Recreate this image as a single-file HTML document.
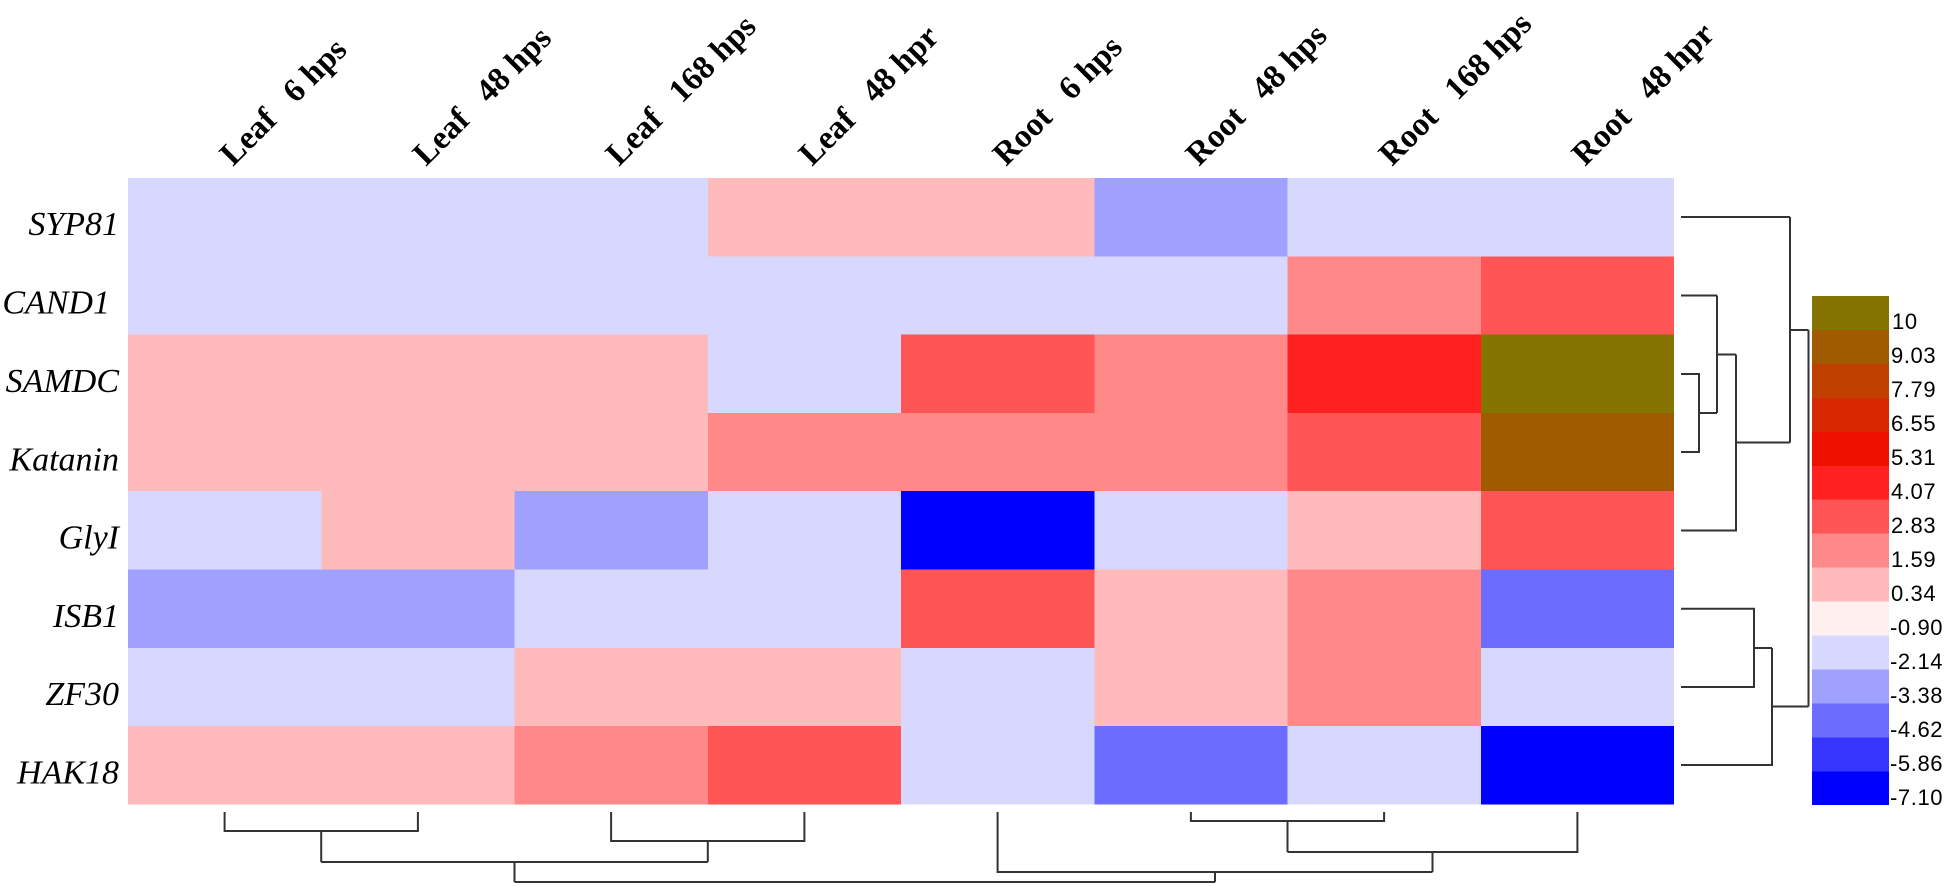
<!DOCTYPE html>
<html><head><meta charset="utf-8"><style>
html,body{margin:0;padding:0;background:#fff;}
svg{display:block;}
.rl{font-family:"Liberation Serif",serif;font-style:italic;font-size:34px;fill:#000;}
.cl{font-family:"Liberation Serif",serif;font-weight:bold;font-size:33px;fill:#000;white-space:pre;}
.lg{font-family:"Liberation Sans",sans-serif;font-size:22px;fill:#000;letter-spacing:0.6px;}
</style></head><body>
<svg width="1946" height="886" viewBox="0 0 1946 886" xmlns="http://www.w3.org/2000/svg">
<rect width="1946" height="886" fill="#fff"/>
<g shape-rendering="crispEdges">
<rect x="128" y="178" width="580" height="78.8" fill="#D8D8FF"/>
<rect x="707.75" y="178" width="386.9" height="78.8" fill="#FFBBBB"/>
<rect x="1094.25" y="178" width="193.7" height="78.8" fill="#A0A0FF"/>
<rect x="1287.5" y="178" width="386.5" height="78.8" fill="#D8D8FF"/>
<rect x="128" y="256.3" width="1159.9" height="78.8" fill="#D8D8FF"/>
<rect x="1287.5" y="256.3" width="193.7" height="78.8" fill="#FF8888"/>
<rect x="1480.75" y="256.3" width="193.25" height="78.8" fill="#FF5555"/>
<rect x="128" y="334.6" width="580" height="78.8" fill="#FFBBBB"/>
<rect x="707.75" y="334.6" width="193.7" height="78.8" fill="#D8D8FF"/>
<rect x="901" y="334.6" width="193.7" height="78.8" fill="#FF5555"/>
<rect x="1094.25" y="334.6" width="193.7" height="78.8" fill="#FF8888"/>
<rect x="1287.5" y="334.6" width="193.7" height="78.8" fill="#FF2020"/>
<rect x="1480.75" y="334.6" width="193.25" height="78.8" fill="#857500"/>
<rect x="128" y="412.9" width="580" height="78.8" fill="#FFBBBB"/>
<rect x="707.75" y="412.9" width="580.2" height="78.8" fill="#FF8888"/>
<rect x="1287.5" y="412.9" width="193.7" height="78.8" fill="#FF5555"/>
<rect x="1480.75" y="412.9" width="193.25" height="78.8" fill="#A05A00"/>
<rect x="128" y="491.2" width="193.7" height="78.8" fill="#D8D8FF"/>
<rect x="321.25" y="491.2" width="193.7" height="78.8" fill="#FFBBBB"/>
<rect x="514.5" y="491.2" width="193.7" height="78.8" fill="#A0A0FF"/>
<rect x="707.75" y="491.2" width="193.7" height="78.8" fill="#D8D8FF"/>
<rect x="901" y="491.2" width="193.7" height="78.8" fill="#0000FF"/>
<rect x="1094.25" y="491.2" width="193.7" height="78.8" fill="#D8D8FF"/>
<rect x="1287.5" y="491.2" width="193.7" height="78.8" fill="#FFBBBB"/>
<rect x="1480.75" y="491.2" width="193.25" height="78.8" fill="#FF5555"/>
<rect x="128" y="569.5" width="386.9" height="78.8" fill="#A0A0FF"/>
<rect x="514.5" y="569.5" width="386.9" height="78.8" fill="#D8D8FF"/>
<rect x="901" y="569.5" width="193.7" height="78.8" fill="#FF5555"/>
<rect x="1094.25" y="569.5" width="193.7" height="78.8" fill="#FFBBBB"/>
<rect x="1287.5" y="569.5" width="193.7" height="78.8" fill="#FF8888"/>
<rect x="1480.75" y="569.5" width="193.25" height="78.8" fill="#6C6CFF"/>
<rect x="128" y="647.8" width="386.9" height="78.8" fill="#D8D8FF"/>
<rect x="514.5" y="647.8" width="386.9" height="78.8" fill="#FFBBBB"/>
<rect x="901" y="647.8" width="193.7" height="78.8" fill="#D8D8FF"/>
<rect x="1094.25" y="647.8" width="193.7" height="78.8" fill="#FFBBBB"/>
<rect x="1287.5" y="647.8" width="193.7" height="78.8" fill="#FF8888"/>
<rect x="1480.75" y="647.8" width="193.25" height="78.8" fill="#D8D8FF"/>
<rect x="128" y="726.1" width="386.9" height="78.4" fill="#FFBBBB"/>
<rect x="514.5" y="726.1" width="193.7" height="78.4" fill="#FF8888"/>
<rect x="707.75" y="726.1" width="193.7" height="78.4" fill="#FF5555"/>
<rect x="901" y="726.1" width="193.7" height="78.4" fill="#D8D8FF"/>
<rect x="1094.25" y="726.1" width="193.7" height="78.4" fill="#6C6CFF"/>
<rect x="1287.5" y="726.1" width="193.7" height="78.4" fill="#D8D8FF"/>
<rect x="1480.75" y="726.1" width="193.25" height="78.4" fill="#0000FF"/>
</g>

<text class="rl" x="119" y="235" text-anchor="end">SYP81</text>
<text class="rl" x="110" y="313.5" text-anchor="end">CAND1</text>
<text class="rl" x="119" y="392" text-anchor="end">SAMDC</text>
<text class="rl" x="119" y="470.5" text-anchor="end">Katanin</text>
<text class="rl" x="119" y="548.5" text-anchor="end">GlyI</text>
<text class="rl" x="119" y="626.8" text-anchor="end">ISB1</text>
<text class="rl" x="119" y="705" text-anchor="end">ZF30</text>
<text class="rl" x="119" y="783.3" text-anchor="end">HAK18</text>

<text class="cl" transform="translate(233,167) rotate(-45)">Leaf&#160;&#160;&#160;6 hps</text>
<text class="cl" transform="translate(426,167) rotate(-45)">Leaf&#160;&#160;&#160;48 hps</text>
<text class="cl" transform="translate(619,167) rotate(-45)">Leaf&#160;&#160;&#160;168 hps</text>
<text class="cl" transform="translate(812,167) rotate(-45)">Leaf&#160;&#160;&#160;48 hpr</text>
<text class="cl" transform="translate(1006,167) rotate(-45)">Root&#160;&#160;&#160;6 hps</text>
<text class="cl" transform="translate(1199,167) rotate(-45)">Root&#160;&#160;&#160;48 hps</text>
<text class="cl" transform="translate(1392,167) rotate(-45)">Root&#160;&#160;&#160;168 hps</text>
<text class="cl" transform="translate(1585,167) rotate(-45)">Root&#160;&#160;&#160;48 hpr</text>

<g fill="none" stroke="#333" stroke-width="2">
<path d="M1681,217 H1790"/>
<path d="M1681,295.5 H1717"/>
<path d="M1681,374 H1699 V452 H1681"/>
<path d="M1699,413 H1717"/>
<path d="M1717,295.5 V413"/>
<path d="M1717,354.5 H1736"/>
<path d="M1681,530.5 H1736 V354.5"/>
<path d="M1736,442.5 H1790"/>
<path d="M1790,217 V442.5"/>
<path d="M1790,330 H1808.5"/>
<path d="M1681,608.7 H1754 V687 H1681"/>
<path d="M1754,648 H1772"/>
<path d="M1681,765 H1772 V648"/>
<path d="M1772,706.5 H1808.5"/>
<path d="M1808.5,330 V706.5"/>
</g>

<g fill="none" stroke="#333" stroke-width="2">
<path d="M224.6,812 V831 H417.9 V812"/>
<path d="M321.2,831 V862"/>
<path d="M611.1,812 V841 H804.4 V812"/>
<path d="M707.8,841 V862"/>
<path d="M321.2,862 H707.8"/>
<path d="M514.5,862 V882"/>
<path d="M1190.9,812 V821 H1384.1 V812"/>
<path d="M1287.5,821 V852"/>
<path d="M1577.4,812 V852 H1287.5"/>
<path d="M1432.5,852 V872"/>
<path d="M997.6,812 V872 H1432.5"/>
<path d="M1215,872 V882"/>
<path d="M514.5,882 H1215"/>
</g>

<g shape-rendering="crispEdges">
<rect x="1812" y="296" width="77" height="34.4" fill="#857500"/>
<rect x="1812" y="329.95" width="77" height="34.4" fill="#A05A00"/>
<rect x="1812" y="363.9" width="77" height="34.4" fill="#C04000"/>
<rect x="1812" y="397.85" width="77" height="34.4" fill="#D82800"/>
<rect x="1812" y="431.8" width="77" height="34.4" fill="#F01000"/>
<rect x="1812" y="465.75" width="77" height="34.4" fill="#FF2020"/>
<rect x="1812" y="499.7" width="77" height="34.4" fill="#FF5555"/>
<rect x="1812" y="533.65" width="77" height="34.4" fill="#FF8888"/>
<rect x="1812" y="567.6" width="77" height="34.4" fill="#FFBBBB"/>
<rect x="1812" y="601.55" width="77" height="34.4" fill="#FFF0F0"/>
<rect x="1812" y="635.5" width="77" height="34.4" fill="#D8D8FF"/>
<rect x="1812" y="669.45" width="77" height="34.4" fill="#A0A0FF"/>
<rect x="1812" y="703.4" width="77" height="34.4" fill="#6C6CFF"/>
<rect x="1812" y="737.35" width="77" height="34.4" fill="#3636FF"/>
<rect x="1812" y="771.3" width="77" height="33.9" fill="#0000FF"/>
</g>
<text class="lg" x="1892" y="329">10</text>
<text class="lg" x="1891" y="363">9.03</text>
<text class="lg" x="1891" y="397">7.79</text>
<text class="lg" x="1891" y="431">6.55</text>
<text class="lg" x="1891" y="465">5.31</text>
<text class="lg" x="1891" y="499">4.07</text>
<text class="lg" x="1891" y="533">2.83</text>
<text class="lg" x="1891" y="567">1.59</text>
<text class="lg" x="1891" y="601">0.34</text>
<text class="lg" x="1890" y="635">-0.90</text>
<text class="lg" x="1890" y="669">-2.14</text>
<text class="lg" x="1890" y="703">-3.38</text>
<text class="lg" x="1890" y="737">-4.62</text>
<text class="lg" x="1890" y="771">-5.86</text>
<text class="lg" x="1890" y="805">-7.10</text>
</svg>
</body></html>
